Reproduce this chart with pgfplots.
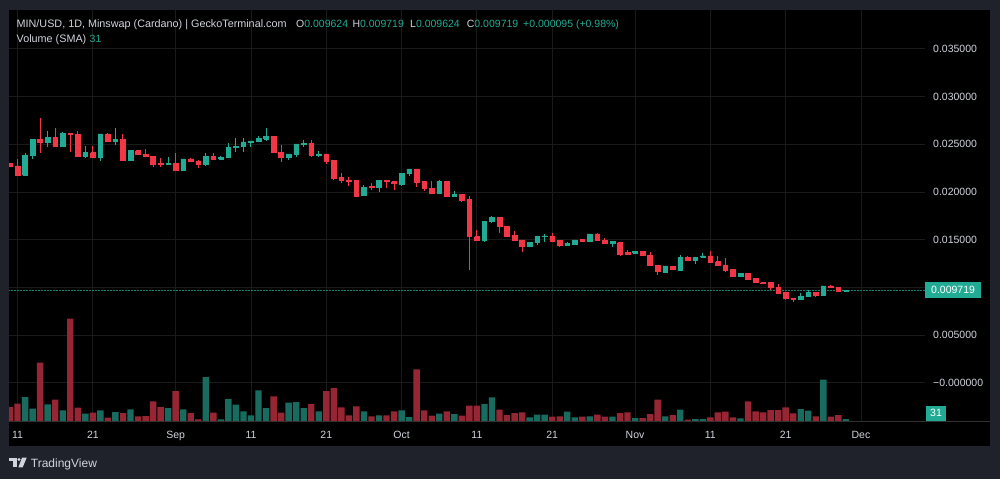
\documentclass[border=0pt]{standalone}
\usepackage{pgfplots}
\pgfplotsset{compat=1.18}
\usepackage{pgfplotstable}
\usepackage{fontspec}
\setmainfont{Liberation Sans}
\definecolor{bgc}{RGB}{31,34,42}
\definecolor{gridc}{RGB}{26,26,26}
\definecolor{sepc}{RGB}{48,48,48}
\definecolor{txtc}{RGB}{209,212,220}
\definecolor{upc}{RGB}{34,171,148}
\definecolor{dnc}{RGB}{242,54,69}
\definecolor{upv}{RGB}{24,108,95}
\definecolor{dnv}{RGB}{150,38,52}
\newcommand\hf{\fontsize{10.5bp}{12bp}\selectfont}
\newcommand\tf{\fontsize{10.8bp}{12bp}\selectfont}

\pgfplotstableread{
k O H L C V
2 0.02178 0.02412 0.02178 0.02388 70
3 0.02388 0.02552 0.02342 0.02552 35
5 0.02517 0.02639 0.02475 0.02569 48
7 0.02482 0.02632 0.02482 0.02615 30
10 0.02377 0.02482 0.02353 0.02412 20
12 0.02363 0.02608 0.02328 0.02608 30
14 0.02527 0.02667 0.02492 0.02552 25
16 0.02328 0.02433 0.02328 0.02433 33
21 0.02294 0.02370 0.02294 0.02300 37
23 0.02231 0.02346 0.02231 0.02346 33
26 0.02290 0.02412 0.02273 0.02377 130
28 0.02345 0.02378 0.02336 0.02362 3
29 0.02362 0.02511 0.02354 0.02465 64
30 0.02465 0.02563 0.02423 0.02476 47
31 0.02476 0.02563 0.02423 0.02525 27
32 0.02518 0.02535 0.02469 0.02535 15
33 0.02535 0.02587 0.02535 0.02563 90
34 0.02556 0.02668 0.02539 0.02587 37
37 0.02361 0.02399 0.02336 0.02399 53
38 0.02399 0.02504 0.02364 0.02504 55
39 0.02504 0.02546 0.02469 0.02511 37
41 0.02389 0.02430 0.02371 0.02399 27
47 0.01962 0.02074 0.01962 0.02047 27
49 0.02047 0.02120 0.02005 0.02120 15
52 0.02085 0.02197 0.02064 0.02197 30
53 0.02197 0.02242 0.02172 0.02242 10
57 0.01986 0.02126 0.01986 0.02108 20
59 0.01951 0.02010 0.01951 0.01979 19
63 0.01497 0.01689 0.01473 0.01689 49
64 0.01689 0.01749 0.01672 0.01731 69
69 0.01435 0.01473 0.01430 0.01473 9
70 0.01469 0.01532 0.01445 0.01532 17
71 0.01532 0.01560 0.01480 0.01539 17
74 0.01438 0.01473 0.01438 0.01463 26
75 0.01456 0.01497 0.01456 0.01497 9
77 0.01480 0.01560 0.01480 0.01560 12
80 0.01466 0.01480 0.01428 0.01480 11
83 0.01358 0.01380 0.01358 0.01375 7
87 0.01158 0.01225 0.01158 0.01225 12
89 0.01176 0.01340 0.01170 0.01316 32
91 0.01281 0.01316 0.01246 0.01316 4
92 0.01316 0.01364 0.01316 0.01330 4
97 0.01113 0.01148 0.01113 0.01148 6
105 0.00876 0.00946 0.00876 0.00904 34
106 0.00904 0.00974 0.00904 0.00946 29
108 0.00921 0.01015 0.00921 0.01015 122
111 0.009624 0.009719 0.009624 0.009719 4
}\up

\pgfplotstableread{
k O H L C V
0 0.02300 0.02305 0.02265 0.02270 40
1 0.02273 0.02346 0.02178 0.02178 50
4 0.02552 0.02772 0.02412 0.02517 173
6 0.02569 0.02667 0.02468 0.02482 62
8 0.02615 0.02622 0.02423 0.02604 305
9 0.02604 0.02639 0.02377 0.02377 38
11 0.02412 0.02482 0.02363 0.02363 23
13 0.02608 0.02615 0.02527 0.02527 8
15 0.02552 0.02604 0.02328 0.02328 22
17 0.02433 0.02440 0.02388 0.02398 12
18 0.02398 0.02447 0.02370 0.02370 13
19 0.02377 0.02377 0.02266 0.02294 57
20 0.02300 0.02353 0.02259 0.02294 40
22 0.02300 0.02405 0.02220 0.02231 88
24 0.02346 0.02360 0.02310 0.02318 22
25 0.02325 0.02335 0.02248 0.02290 3
27 0.02377 0.02405 0.02340 0.02342 23
35 0.02587 0.02587 0.02413 0.02413 72
36 0.02416 0.02493 0.02312 0.02361 23
40 0.02511 0.02546 0.02364 0.02389 49
42 0.02399 0.02399 0.02291 0.02326 88
43 0.02330 0.02330 0.02127 0.02144 97
44 0.02155 0.02197 0.02092 0.02120 39
45 0.02127 0.02155 0.02067 0.02117 15
46 0.02120 0.02120 0.01959 0.01959 42
48 0.02058 0.02092 0.02016 0.02047 12
50 0.02120 0.02127 0.02040 0.02110 15
51 0.02110 0.02110 0.02022 0.02096 27
54 0.02242 0.02242 0.02057 0.02102 153
55 0.02108 0.02108 0.02014 0.02038 30
56 0.02038 0.02119 0.01986 0.01986 14
58 0.02108 0.02108 0.01951 0.01951 27
60 0.01979 0.01979 0.01899 0.01916 14
61 0.01923 0.01958 0.01183 0.01532 44
62 0.01532 0.01602 0.01497 0.01497 44
65 0.01731 0.01731 0.01567 0.01637 32
66 0.01644 0.01644 0.01539 0.01539 16
67 0.01546 0.01592 0.01490 0.01490 22
68 0.01497 0.01497 0.01375 0.01435 24
72 0.01539 0.01574 0.01487 0.01487 11
73 0.01490 0.01490 0.01421 0.01438 12
76 0.01504 0.01504 0.01487 0.01487 11
78 0.01560 0.01574 0.01497 0.01497 17
79 0.01497 0.01515 0.01463 0.01463 11
81 0.01469 0.01469 0.01333 0.01351 22
82 0.01365 0.01393 0.01351 0.01351 24
84 0.01375 0.01380 0.01333 0.01333 7
85 0.01340 0.01375 0.01228 0.01228 19
86 0.01228 0.01228 0.01130 0.01165 62
88 0.01218 0.01225 0.01193 0.01193 16
90 0.01316 0.01330 0.01281 0.01281 2
93 0.01330 0.01385 0.01263 0.01263 9
94 0.01270 0.01330 0.01228 0.01228 24
95 0.01235 0.01305 0.01165 0.01183 26
96 0.01190 0.01190 0.01113 0.01113 9
98 0.01148 0.01148 0.01089 0.01089 57
99 0.01096 0.01096 0.01050 0.01050 27
100 0.01050 0.01057 0.01033 0.01040 24
101 0.01050 0.01050 0.00974 0.00998 31
102 0.00998 0.01033 0.00939 0.00939 31
103 0.00946 0.00946 0.00869 0.00886 39
104 0.00886 0.00886 0.00851 0.00876 21
107 0.00946 0.00946 0.00904 0.00921 12
109 0.01015 0.01025 0.00991 0.01001 11
110 0.01001 0.01001 0.00956 0.00956 16
}\dn

\newcommand\drawcandles[2]{%
  \pgfplotstablegetrowsof{#1}%
  \pgfmathtruncatemacro\nrows{\pgfplotsretval-1}%
  \pgfplotsforeachungrouped \i in {0,...,\nrows}{%
    \pgfplotstablegetelem{\i}{k}\of#1\let\kk\pgfplotsretval
    \pgfplotstablegetelem{\i}{O}\of#1\let\oo\pgfplotsretval
    \pgfplotstablegetelem{\i}{H}\of#1\let\hh\pgfplotsretval
    \pgfplotstablegetelem{\i}{L}\of#1\let\lw\pgfplotsretval
    \pgfplotstablegetelem{\i}{C}\of#1\let\cc\pgfplotsretval
    \pgfmathsetmacro\ka{\kk-0.31}%
    \pgfmathsetmacro\kb{\kk+0.31}%
    \edef\tmp{%
      \noexpand\addplot[draw=#2, line width=1bp, forget plot] coordinates {(\kk,\hh) (\kk,\lw)};
      \noexpand\addplot[fill=#2, draw=#2, line width=0.6bp, forget plot] coordinates {(\ka,\oo) (\kb,\oo) (\kb,\cc) (\ka,\cc) (\ka,\oo)};
    }\tmp
  }%
}

\pgfplotsset{base/.style={at={(9bp,-421bp)}, anchor=south west,
  width=916bp, height=411bp, scale only axis,
  xmin=-0.133, xmax=121.5,
  scaled y ticks=false, scaled x ticks=false,
  axis line style={draw=none}, tick style={draw=none}, major tick length=0pt}}

\begin{document}
\begin{tikzpicture}
\path[use as bounding box] (0,0) rectangle (1000bp,-479bp);
\fill[bgc] (0,0) rectangle (1000bp,-479bp);
\fill[black] (9bp,-10bp) rectangle (990bp,-446bp);

% grid and tick labels
\begin{axis}[base,
  ymin=-0.004004, ymax=0.039078,
  xtick={1,11,22,32,42,52,62,72,83,93,103,113},
  xticklabels={11,21,Sep,11,21,Oct,11,21,Nov,11,21,Dec},
  ytick={0,0.005,0.01,0.015,0.02,0.025,0.03,0.035},
  yticklabels={−0.000000,0.005000,,0.015000,0.020000,0.025000,0.030000,0.035000},
  grid=major, major grid style={gridc, line width=0.9bp},
  yticklabel pos=right,
  ticklabel style={font=\hf, text=txtc},
  yticklabel style={anchor=west, inner sep=0pt, xshift=8bp},
  xticklabel style={anchor=base, inner sep=0pt, yshift=-17.5bp}]
\addplot[draw=none] coordinates {(0,0.01)};
\end{axis}

% volume
\begin{axis}[base, hide axis, ymin=0, ymax=1233]
\addplot[ybar, bar width=6.4bp, fill=upv, draw=none] table[x=k,y expr=\thisrow{V}+2]{\up};
\addplot[ybar, bar width=6.4bp, fill=dnv, draw=none] table[x=k,y expr=\thisrow{V}+2]{\dn};
\end{axis}

% candles
\begin{axis}[base, hide axis, ymin=-0.004004, ymax=0.039078, clip mode=individual]
\addplot[upc!75!black, line width=0.8bp, dash pattern=on 1.5bp off 1.5bp] coordinates {(-1,0.009719) (125,0.009719)};
\drawcandles{\up}{upc}
\drawcandles{\dn}{dnc}
\node[anchor=west, fill=upc, text=white, font=\hf, inner xsep=6bp, inner ysep=0pt, minimum height=15.6bp] at (axis cs:121.5,0.009719) {0.009719};
\end{axis}

\draw[sepc, line width=0.8bp] (9bp,-421bp) -- (990bp,-421bp);
\node[anchor=south west, fill=upc, text=white, font=\hf, inner xsep=4bp, inner ysep=0pt, minimum height=15.3bp] at (926bp,-421bp) {31};

% header
\node[anchor=base west, inner sep=0pt, text=txtc, font=\tf] at (16.5bp,-27.3bp) {MIN/USD, 1D, Minswap (Cardano) | GeckoTerminal.com};
\node[anchor=base west, inner sep=0pt, text=txtc, font=\hf] at (296bp,-27.3bp) {O\textcolor{upc}{0.009624}};
\node[anchor=base west, inner sep=0pt, text=txtc, font=\hf] at (352.3bp,-27.3bp) {H\textcolor{upc}{0.009719}};
\node[anchor=base west, inner sep=0pt, text=txtc, font=\hf] at (410bp,-27.3bp) {L\textcolor{upc}{0.009624}};
\node[anchor=base west, inner sep=0pt, text=txtc, font=\hf] at (466.7bp,-27.3bp) {C\textcolor{upc}{0.009719}};
\node[anchor=base west, inner sep=0pt, text=upc, font=\hf] at (523bp,-27.3bp) {+0.000095 (+0.98\%)};
\node[anchor=base west, inner sep=0pt, text=txtc, font=\tf] at (16.5bp,-42.5bp) {Volume (SMA)};
\node[anchor=base west, inner sep=0pt, text=upc, font=\hf] at (89.5bp,-42.5bp) {31};

% TradingView logo
\fill[txtc] (9.3bp,-457.7bp) rectangle (17bp,-460.8bp);
\fill[txtc] (13.2bp,-460.8bp) rectangle (16.6bp,-467.3bp);
\fill[txtc] (19bp,-459.4bp) circle (1.6bp);
\fill[txtc] (22bp,-457.7bp) -- (26.7bp,-457.7bp) -- (22.7bp,-467.3bp) -- (18.4bp,-467.3bp) -- cycle;
\node[anchor=base west, inner sep=0pt, text=txtc, font=\fontsize{12bp}{14bp}\selectfont] at (30.7bp,-467.5bp) {TradingView};
\end{tikzpicture}
\end{document}
